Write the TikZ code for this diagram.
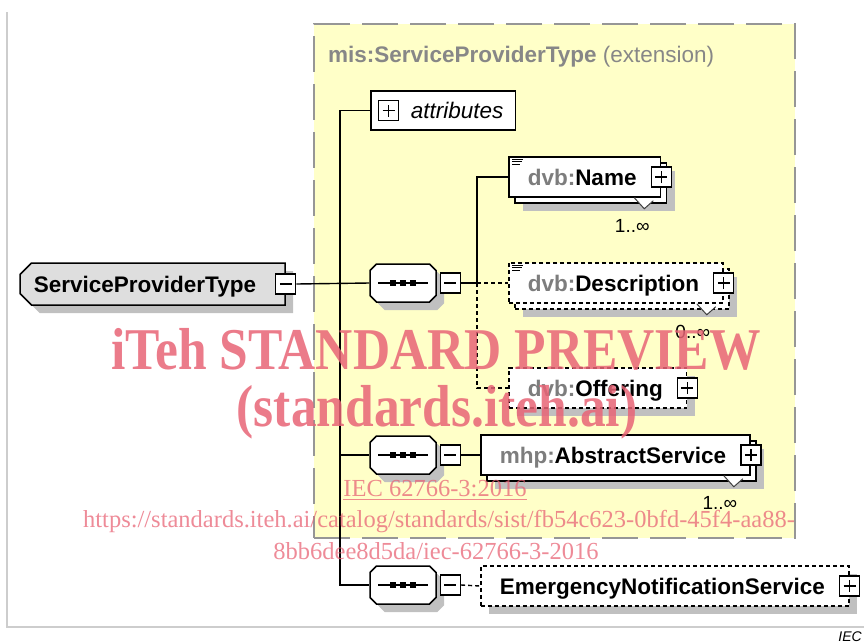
\documentclass[tikz,border=0pt]{standalone}
\usepackage{fontspec}
\setmainfont{Liberation Sans}
\newfontfamily\wmfont{Liberation Serif}
\usepackage{graphicx}
\usepackage{tikz}
\usetikzlibrary{positioning}
\usetikzlibrary{shapes.misc}
\usetikzlibrary{shadows}
\definecolor{extyellow}{RGB}{255,255,200}
\definecolor{extframe}{RGB}{150,150,150}
\definecolor{titlegray}{RGB}{135,135,135}
\definecolor{prefixgray}{RGB}{125,125,125}
\definecolor{shadowgray}{RGB}{192,192,192}
\definecolor{rootgray}{RGB}{222,222,222}
\definecolor{framegray}{RGB}{205,205,205}
\definecolor{wmpink}{RGB}{232,100,118}
\newcommand\elfont{\fontsize{22.5}{27}\selectfont\bfseries}
\newcommand\pfx[1]{\textcolor{prefixgray}{#1:}}
% sequence compositor symbol: a bar with three dots
\newcommand\seqsym{\rlap{\rule[-0.75pt]{50pt}{1.5pt}}\hspace*{12pt}\rule[-3pt]{6pt}{6pt}\hspace*{4pt}\rule[-3pt]{6pt}{6pt}\hspace*{4pt}\rule[-3pt]{6pt}{6pt}\hspace*{12pt}}

\begin{document}
\begin{tikzpicture}[x=1pt,y=-1pt,
	dropsh/.style={drop shadow={shadow xshift=#1, shadow yshift=-#1, fill=shadowgray, opacity=1}},
	dropsh/.default=8pt,
	optdash/.style={dash pattern=on 4pt off 3pt},
	conn/.style={line width=1.4pt},
	elembase/.style={draw, fill=white, line width=1.5pt, minimum height=40pt, inner xsep=19pt, inner ysep=0pt, text height=16pt, text depth=0pt, anchor=west, font=\elfont, execute at end node={\hspace*{5pt}}},
	elembox/.style={elembase, dropsh},
	manybox/.style={elembase, dropsh=14pt, general shadow={shadow xshift=6pt, shadow yshift=-6pt, draw=black, fill=white, line width=1.5pt, #1}},
	manybox/.default={solid},
	rootbox/.style={chamfered rectangle, chamfered rectangle corners={north west,south west}, chamfered rectangle xsep=10pt, draw, fill=rootgray, line width=1.5pt, minimum width=265pt, minimum height=42pt, inner sep=0pt, text height=16pt, text depth=0pt, font=\elfont, execute at end node={\hspace*{15pt}}, dropsh},
	attrbox/.style={draw, fill=white, line width=1.5pt, minimum height=39pt, inner xsep=12pt, inner ysep=0pt, text height=16pt, text depth=0pt, anchor=west, font=\fontsize{22.5}{27}\selectfont\itshape},
	seqbox/.style={chamfered rectangle, chamfered rectangle corners={north west,north east,south west,south east}, chamfered rectangle xsep=11pt, draw, fill=white, line width=1.5pt, minimum width=66pt, minimum height=38pt, inner sep=0pt, dropsh},
	pmbox/.style={draw, fill=white, line width=1.4pt, minimum size=20pt, inner sep=0pt},
	minusbox/.style={pmbox, path picture={\draw [line width=1.4pt] ([xshift=-6pt]path picture bounding box.center) -- ([xshift=6pt]path picture bounding box.center);}},
	plusbox/.style={pmbox, path picture={\draw [line width=1.4pt] ([xshift=-6pt]path picture bounding box.center) -- ([xshift=6pt]path picture bounding box.center) ([yshift=-6pt]path picture bounding box.center) -- ([yshift=6pt]path picture bounding box.center);}},
	multlabel/.style={anchor=base, inner sep=0pt, font=\fontsize{19}{22}\selectfont},
	notchline/.style={draw=black!75, fill=white, line width=1pt},
	iconline/.style={line width=1pt},
	wmbig/.style={inner sep=0pt, text=wmpink, text opacity=0.85, font=\wmfont\bfseries\fontsize{51.5}{60}\selectfont},
	wmsmall/.style={inner sep=0pt, text=wmpink, text opacity=0.75, font=\wmfont\fontsize{24.5}{29}\selectfont}]
	\useasboundingbox (0,0) rectangle (864,643);
	\draw [framegray, line width=2pt] (7,12) -- (7,627) -- (864,627);
	\node [anchor=north east, inner sep=0pt, font=\fontsize{14}{16}\selectfont\itshape] (iec) at (862,632) {IEC};

	% Level 1 and extension frame
	\node [draw=extframe, fill=extyellow, line width=2pt, dash pattern=on 36pt off 12pt, minimum width=481pt, minimum height=514pt] (2ext) at (554.5,281) {};
	\node [anchor=base west, inner sep=0pt, text=titlegray, font=\fontsize{22.5}{27}\selectfont] (2title) at (328,62) {\textbf{mis:ServiceProviderType} (extension)};
	\node [rootbox] (1SPT) at (152.5,284) {ServiceProviderType};
	\node [minusbox] (1SPTm) at (1SPT.east) {};

	% Level 2
	\node [attrbox] (2attr) at (370,110.5) {\hspace*{28pt}attributes};
	\node [plusbox, right=8pt of 2attr.west] (2attrp) {};
	\node [seqbox] (2seqA) at (403,283) {\seqsym};
	\node [minusbox, right=3pt of 2seqA] (2seqAm) {};
	\node [seqbox] (2seqB) at (403,455) {\seqsym};
	\node [minusbox, right=3pt of 2seqB] (2seqBm) {};
	\node [seqbox] (2seqC) at (403,585) {\seqsym};
	\node [minusbox, right=3pt of 2seqC] (2seqCm) {};

	% Level 3
	\node [manybox] (3Name) at (508,177) {\pfx{dvb}Name};
	\node [manybox=optdash, optdash] (3Desc) at (508,283) {\pfx{dvb}Description};
	\node [elembox, optdash] (3Offer) at (508,388) {\pfx{dvb}Offering};
	\node [manybox] (3Abstract) at (480,455) {\pfx{mhp}AbstractService};
	\node [elembox, optdash] (3Emerg) at (480,586) {EmergencyNotificationService};
	\foreach \el in {3Name,3Desc,3Offer,3Abstract,3Emerg}
		\node [plusbox] (\el p) at (\el.east) {};
	\foreach \el in {3Name,3Desc}
		\draw [iconline] ([shift={(4,3)}]\el.north west) -- +(11,0)
			([shift={(4,5.5)}]\el.north west) -- +(10,0)
			([shift={(4,8)}]\el.north west) -- +(8,0);
	\foreach \el in {3Name,3Desc,3Abstract}
		\draw [notchline] ([shift={(-27,0)}]\el.south east) -- ++(10,11) -- ++(9,-8);
	\node [multlabel] (3Namemult) at ([shift={(-29,35)}]3Name.south east) {1..∞};
	\node [multlabel] (3Descmult) at ([shift={(-31,35)}]3Desc.south east) {0..∞};
	\node [multlabel] (3Abstractmult) at ([shift={(-31,34)}]3Abstract.south east) {1..∞};

	% Connections
	\coordinate (1fork) at (340,283);
	\coordinate (2fork) at (477,283);
	\draw [conn] (1SPTm.east) -- (2seqA.west);
	\draw [conn] (2attr.west) -| (1fork) |- (2seqB.west);
	\draw [conn] (1fork) |- (2seqC.west);
	\draw [conn] (2seqAm.east) -- (2fork);
	\draw [conn] (2fork) |- (3Name.west);
	\draw [conn, optdash] (2fork) -- (3Desc.west);
	\draw [conn, optdash] (2fork) |- (3Offer.west);
	\draw [conn] (2seqBm.east) -- (3Abstract.west);
	\draw [conn, optdash] (2seqCm.east) -- (3Emerg.west);

	% Watermark
	\node [wmbig] (wm1) at (436,349) {\scalebox{1}[1.15]{iTeh STANDARD PREVIEW}};
	\node [wmbig] (wm2) at (437,412) {\scalebox{1}[1.15]{(standards.iteh.ai)}};
	\node [wmsmall] (wm3) at (435,490) {\underline{IEC 62766-3:2016}};
	\node [wmsmall] (wm4) at (439,522) {https://standards.iteh.ai/catalog/standards/sist/fb54c623-0bfd-45f4-aa88-};
	\node [wmsmall] (wm5) at (436,551) {8bb6dee8d5da/iec-62766-3-2016};
\end{tikzpicture}
\end{document}
